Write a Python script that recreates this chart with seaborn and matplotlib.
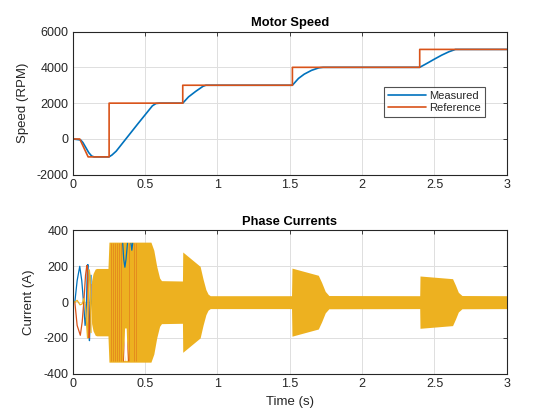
import matplotlib
matplotlib.use("Agg")
import matplotlib.pyplot as plt
import seaborn as sns
import pandas as pd

# ---------------- data ----------------
ref_t = [0, 0.048, 0.106, 0.251, 0.251, 0.76, 0.76, 1.518, 1.518, 2.398, 2.398, 3.0]
ref_v = [0, 0, -1000, -1000, 2000, 2000, 3000, 3000, 4000, 4000, 5000, 5000]

meas_t = [0, 0.03, 0.055, 0.07, 0.09, 0.11, 0.13, 0.147, 0.25, 0.27, 0.3, 0.35, 0.4, 0.45,
          0.5, 0.55, 0.575, 0.6, 0.76, 0.8, 0.85, 0.9, 0.92, 1.518, 1.56, 1.6, 1.65, 1.7,
          1.73, 2.398, 2.45, 2.5, 2.55, 2.6, 2.645, 3.0]
meas_v = [0, -30, -60, -200, -480, -760, -950, -1000, -1000, -900, -680, -170, 340, 850,
          1350, 1850, 1980, 2000, 2000, 2350, 2660, 2940, 3000, 3000, 3380, 3620, 3830, 3970,
          4000, 4000, 4230, 4460, 4680, 4870, 5000, 5000]

# early low-frequency phase currents
ia_t = [0, 0.014, 0.03, 0.048, 0.062, 0.076, 0.085, 0.092, 0.1, 0.104, 0.11, 0.115, 0.12, 0.126]
ia_v = [0, 0, 120, 200, 120, -20, -130, -80, 170, 210, 40, -215, -120, 150]
ib_t = [0, 0.014, 0.03, 0.052, 0.065, 0.076, 0.088, 0.097, 0.101, 0.106, 0.112, 0.118, 0.124]
ib_v = [0, 0, -130, -185, -110, 0, 150, 205, 200, -40, -200, -130, 100]
ic_t = [0, 0.014, 0.03, 0.05, 0.065, 0.076, 0.088, 0.095, 0.102, 0.108, 0.114, 0.12, 0.126]
ic_v = [0, 0, 10, -15, -10, 20, -20, -120, -200, 40, 180, 140, -170]

# envelope of the dense (high-frequency) three-phase currents
env_t = [0.122, 0.13, 0.14, 0.155, 0.165, 0.243, 0.25, 0.54, 0.56, 0.58, 0.6, 0.613,
         0.758, 0.76, 0.88, 0.9, 0.92, 0.935, 0.95, 1.512, 1.515, 1.697, 1.72, 1.745,
         1.77, 2.398, 2.4, 2.625, 2.645, 2.665, 2.69, 3.0]
env_a = [0, 120, 160, 185, 188, 188, 335, 335, 290, 200, 135, 120,
         118, 280, 200, 130, 70, 45, 36, 36, 190, 150, 110, 60,
         37, 36, 146, 131, 95, 55, 37, 36]

# visible aliasing streaks inside the saturated region
streak_a_t = [0.345, 0.352, 0.36, 0.368, 0.378]
streak_a_v = [328, 240, 195, 240, 328]
streak_a2_t = [0.402, 0.408, 0.414]
streak_a2_v = [328, 290, 328]
streak_b_t = [0.352, 0.36, 0.368, 0.376, 0.384]
streak_b_v = [-328, -240, -200, -250, -328]
orange_streaks = [0.262, 0.275, 0.29, 0.305, 0.32, 0.335, 0.39, 0.425, 0.44]

blue = "#0072BD"
orange = "#D95319"
yellow = "#EDB120"
dark = "#262626"

sns.set_theme(style="white")
plt.rcParams['font.family'] = ['Liberation Sans', 'DejaVu Sans']
plt.rcParams['axes.unicode_minus'] = False

fig = plt.figure(figsize=(5.6, 4.2), dpi=100)
ax1 = fig.add_axes([0.13, 0.5838, 0.775, 0.3412])
ax2 = fig.add_axes([0.13, 0.11, 0.775, 0.3412])

speed_meas = pd.DataFrame({"t": meas_t, "v": meas_v})
speed_ref = pd.DataFrame({"t": ref_t, "v": ref_v})
sns.lineplot(data=speed_meas, x="t", y="v", ax=ax1, color=blue, lw=1.2, label="Measured",
             sort=False, estimator=None)
sns.lineplot(data=speed_ref, x="t", y="v", ax=ax1, color=orange, lw=1.2, label="Reference",
             sort=False, estimator=None)

# currents
env_lo = [-a for a in env_a]
ax2.fill_between(env_t, env_lo, env_a, color=yellow, lw=0, zorder=2)
for xs in orange_streaks:
    ax2.vlines(xs, -330, 330, color=orange, lw=0.6, alpha=0.45, zorder=2.5)
sns.lineplot(x=ia_t, y=ia_v, ax=ax2, color=blue, lw=0.9, sort=False, estimator=None, zorder=3)
sns.lineplot(x=ib_t, y=ib_v, ax=ax2, color=orange, lw=0.9, sort=False, estimator=None, zorder=3)
sns.lineplot(x=ic_t, y=ic_v, ax=ax2, color=yellow, lw=0.9, sort=False, estimator=None, zorder=3)
sns.lineplot(x=streak_a_t, y=streak_a_v, ax=ax2, color=blue, lw=0.9, sort=False, estimator=None, zorder=3)
sns.lineplot(x=streak_a2_t, y=streak_a2_v, ax=ax2, color=blue, lw=0.9, sort=False, estimator=None, zorder=3)
sns.lineplot(x=streak_b_t, y=streak_b_v, ax=ax2, color=orange, lw=0.9, sort=False, estimator=None, zorder=3)
sns.lineplot(x=[0.36, 0.367, 0.374], y=[-325, -150, -325], ax=ax2, color="white", lw=1.2,
             sort=False, estimator=None, zorder=3)

for ax in (ax1, ax2):
    ax.set_xlim(0, 3)
    ax.set_xticks([0, 0.5, 1, 1.5, 2, 2.5, 3])
    ax.set_xticklabels(["0", "0.5", "1", "1.5", "2", "2.5", "3"])
    ax.grid(True, color="#dfdfdf", lw=0.7)
    ax.set_axisbelow(True)
    ax.tick_params(direction="in", length=3, width=0.6, colors=dark, labelsize=9,
                   top=True, right=True, pad=3)
    for s in ax.spines.values():
        s.set_color(dark)
        s.set_linewidth(0.8)
        s.set_zorder(5)
    ax.set_facecolor("white")

ax1.set_ylim(-2000, 6000)
ax1.set_yticks([-2000, 0, 2000, 4000, 6000])
ax1.set_xlabel("")
ax1.set_ylabel("Speed (RPM)", color=dark, fontsize=9.5)
ax1.yaxis.set_label_coords(-0.101, 0.5)
ax1.set_title("Motor Speed", fontweight="bold", fontsize=9.3, color="black", pad=4)
leg = ax1.legend(loc="upper left", bbox_to_anchor=(0.717, 0.615), frameon=True, fancybox=False,
                 edgecolor=dark, fontsize=8, handlelength=3.4, borderpad=0.35,
                 labelspacing=0.25, handletextpad=0.3, borderaxespad=0)
leg.get_frame().set_linewidth(0.8)
for t in leg.get_texts():
    t.set_color(dark)

ax2.set_ylim(-400, 400)
ax2.set_yticks([-400, -200, 0, 200, 400])
ax2.set_ylabel("Current (A)", color=dark, fontsize=9.5)
ax2.yaxis.set_label_coords(-0.088, 0.5)
ax2.set_xlabel("Time (s)", color=dark, fontsize=9.5)
ax2.set_title("Phase Currents", fontweight="bold", fontsize=9.3, color="black", pad=4)

fig.savefig("out.png", dpi=100, facecolor="white")
